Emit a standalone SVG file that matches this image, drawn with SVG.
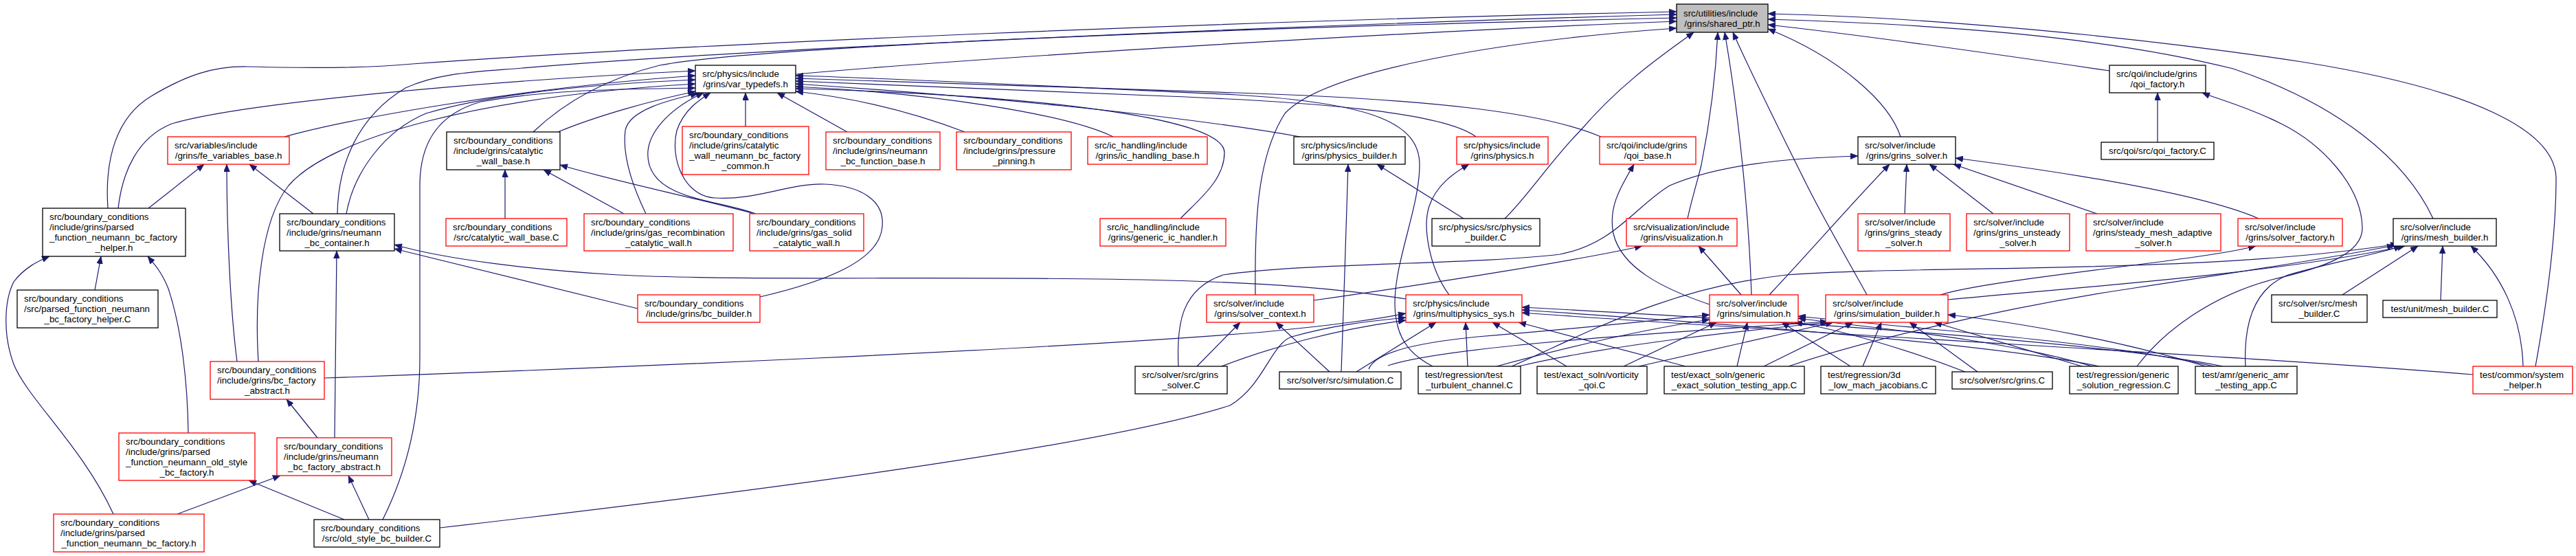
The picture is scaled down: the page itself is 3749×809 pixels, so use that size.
<svg xmlns="http://www.w3.org/2000/svg" width="3749" height="809" viewBox="0 0 3749 809">
<defs>
<marker id="ah" markerUnits="userSpaceOnUse" markerWidth="12" markerHeight="9" refX="11" refY="4.5" orient="auto" viewBox="0 0 12 9"><path d="M0,0 L11,4.5 L0,9 z" fill="#191970" stroke="#191970" stroke-width="0.5"/></marker>
</defs>
<style>
.b{fill:#fff;stroke:#000;stroke-width:1.3}
.r{fill:#fff;stroke:#f00;stroke-width:1.3}
.g{fill:#bfbfbf;stroke:#000;stroke-width:1.3}
text{font-family:"Liberation Sans",Arial,Helvetica,sans-serif;font-size:13.33px;fill:#000}
.l{text-anchor:start}
.c{text-anchor:middle}
#edges path{fill:none;stroke:#191970;stroke-width:1.2;marker-end:url(#ah)}
</style>
<rect x="0" y="0" width="3749" height="809" fill="#fff"/>
<g id="edges">
<path d="M1158,108 C1450,82 2050,46 2440,31"/>
<path d="M157,303 C152,230 170,170 220,140 C270,110 310,96 360,97 C450,99 520,100 600,93 C1000,64 1800,30 2440,17"/>
<path d="M491,311 C492,240 520,170 590,128 C640,105 700,104 760,99 C1100,70 1900,36 2440,21"/>
<path d="M776,192 C820,150 880,115 960,95 C1100,68 1800,40 2440,26"/>
<path d="M1827,429 C1826,330 1828,230 1870,165 C1930,100 2200,58 2440,41"/>
<path d="M2190,318 C2220,290 2260,230 2300,190 C2360,120 2420,80 2465,47"/>
<path d="M2456,318 C2462,290 2470,265 2476,240 C2488,180 2497,110 2500,47"/>
<path d="M2549,429 C2545,300 2528,150 2510,47"/>
<path d="M2717,429 C2690,380 2655,320 2630,270 C2590,190 2550,110 2522,47"/>
<path d="M2766,199 C2750,150 2680,85 2573,42"/>
<path d="M3070,103 C2900,78 2700,50 2573,36"/>
<path d="M3541,318 C3500,230 3400,150 3250,100 C3050,50 2800,35 2573,28"/>
<path d="M3690,533 C3705,450 3720,350 3720,260 C3720,190 3600,130 3350,90 C3100,52 2800,25 2573,20"/>
<path d="M3140,207 L3140,135"/>
<path d="M3110,533 C3150,480 3220,430 3306,407 C3380,390 3440,370 3438,330 C3436,270 3380,210 3320,180 C3270,155 3230,145 3205,135"/>
<path d="M172,303 C178,250 200,200 250,180 C350,150 700,118 1012,103"/>
<path d="M414,199 C500,175 750,128 1012,110"/>
<path d="M504,311 C515,250 560,190 620,165 C720,135 870,122 1012,116"/>
<path d="M376,526 C370,430 380,320 420,270 C480,200 700,140 1012,122"/>
<path d="M557,756 C590,690 611,610 611,520 L611,270 C611,205 640,165 700,148 C800,130 900,130 1012,128"/>
<path d="M812,192 C870,168 950,146 1012,133"/>
<path d="M940,311 C925,280 905,230 910,190 C915,160 975,145 1016,136"/>
<path d="M1100,311 C1040,290 960,290 945,240 C932,195 980,155 1024,135"/>
<path d="M1106,432 C1200,410 1280,380 1284,330 C1288,290 1250,270 1200,268 C1150,266 1100,292 1040,288 C995,285 975,230 985,190 C995,160 1018,145 1034,135"/>
<path d="M1085,184 L1085,135"/>
<path d="M1233,192 L1131,135"/>
<path d="M1404,192 C1320,160 1240,142 1158,133"/>
<path d="M1620,199 C1550,165 1350,135 1158,126"/>
<path d="M1718,318 C1745,290 1782,262 1782,222 C1782,170 1500,138 1158,129"/>
<path d="M1892,199 C1700,165 1400,138 1158,122"/>
<path d="M2148,199 C2100,162 1900,148 1700,140 C1500,132 1300,123 1158,118"/>
<path d="M2330,199 C2250,165 2100,145 1800,135 C1500,125 1300,118 1158,114"/>
<path d="M2085,533 C2050,515 2030,490 2030,440 C2030,380 2066,300 2066,240 C2066,180 2000,150 1800,138 C1500,124 1300,114 1158,110"/>
<path d="M216,303 L297,239"/>
<path d="M345,526 C335,450 330,330 330,239"/>
<path d="M456,311 L363,239"/>
<path d="M735,318 L735,247"/>
<path d="M908,311 L791,247"/>
<path d="M1098,311 C1000,285 900,265 815,240"/>
<path d="M138,422 L147,373"/>
<path d="M165,748 C120,650 40,580 20,530 C5,490 5,440 20,410 C35,390 55,380 72,373"/>
<path d="M274,630 C273,560 265,480 245,420 C235,395 225,385 215,373"/>
<path d="M487,637 L490,365"/>
<path d="M928,449 L574,362"/>
<path d="M2046,435 C1950,420 1850,412 1700,408 C1400,400 1100,410 900,400 C780,393 650,378 574,356"/>
<path d="M462,637 L417,581"/>
<path d="M258,748 L408,692"/>
<path d="M537,756 L507,692"/>
<path d="M501,756 L362,699"/>
<path d="M472,550 C900,535 1500,510 1840,483 C1950,472 2000,465 2046,456"/>
<path d="M640,768 C1100,715 1600,650 1790,590 C1840,560 1850,500 1880,490 C1950,470 2010,466 2046,462"/>
<path d="M1778,533 C1850,505 1950,478 2046,466"/>
<path d="M1974,541 L2090,469"/>
<path d="M2136,533 L2133,469"/>
<path d="M2280,533 L2172,469"/>
<path d="M2453,533 L2210,469"/>
<path d="M3599,545 C3300,520 2700,490 2215,455"/>
<path d="M3055,533 C2900,500 2500,470 2215,451"/>
<path d="M3235,533 C3050,495 2550,465 2215,447"/>
<path d="M2109,429 C2080,390 2070,330 2080,300 C2090,270 2115,252 2138,239"/>
<path d="M1935,541 L1857,469"/>
<path d="M1742,533 L1805,469"/>
<path d="M1952,541 C1955,450 1960,320 1962,239"/>
<path d="M2130,318 L2004,239"/>
<path d="M2488,443 C2420,420 2360,390 2348,340 C2340,300 2360,270 2378,239"/>
<path d="M1912,437 C2100,410 2300,378 2390,358"/>
<path d="M2534,429 L2472,358"/>
<path d="M2575,429 C2640,360 2700,290 2750,239"/>
<path d="M2772,311 L2775,239"/>
<path d="M2901,311 L2808,239"/>
<path d="M3052,311 L2843,239"/>
<path d="M3287,318 C3200,280 3000,250 2846,230"/>
<path d="M1715,533 C1712,470 1720,420 1780,400 C1900,382 2150,385 2270,370 C2350,355 2380,300 2430,270 C2500,240 2600,230 2704,227"/>
<path d="M2824,429 C2900,405 3200,380 3283,358"/>
<path d="M3552,437 L3555,358"/>
<path d="M3409,429 L3519,358"/>
<path d="M3672,533 C3670,460 3640,400 3596,358"/>
<path d="M2835,436 C3000,420 3300,400 3500,358"/>
<path d="M3268,533 C3265,470 3280,420 3330,400 C3400,380 3460,370 3495,358"/>
<path d="M2200,533 C2300,490 2420,420 2600,400 C2800,385 3200,400 3490,355"/>
<path d="M2603,533 C2700,500 2900,450 3100,420 C3300,390 3420,370 3485,357"/>
<path d="M1992,537 C2000,515 2050,500 2150,490 C2300,478 2420,465 2488,458"/>
<path d="M2178,533 C2300,500 2400,478 2488,465"/>
<path d="M2363,533 L2498,469"/>
<path d="M2528,533 L2543,469"/>
<path d="M2693,533 L2593,469"/>
<path d="M2860,541 C2780,510 2680,480 2612,469"/>
<path d="M3045,533 C2900,490 2700,475 2617,463"/>
<path d="M3222,533 C3050,495 2800,480 2617,460"/>
<path d="M2020,532 C2100,505 2400,485 2660,468"/>
<path d="M2210,533 C2350,500 2550,480 2662,469"/>
<path d="M2385,533 L2668,469"/>
<path d="M2567,533 L2697,469"/>
<path d="M2711,533 L2738,469"/>
<path d="M2878,541 L2779,469"/>
<path d="M3030,533 L2815,469"/>
<path d="M3210,533 C3100,500 2950,470 2835,458"/>
</g>
<g id="shared_ptr"><rect class="g" x="2440" y="6" width="133" height="41"/><text class="l" x="2450" y="23.6">src/utilities/include</text><text class="c" x="2506.5" y="38.6">/grins/shared_ptr.h</text></g>
<g id="var_typedefs"><rect class="b" x="1012" y="95" width="146" height="40"/><text class="l" x="1022" y="112">src/physics/include</text><text class="c" x="1085" y="127">/grins/var_typedefs.h</text></g>
<g id="qoi_factory_h"><rect class="b" x="3070" y="95" width="140" height="40"/><text class="l" x="3080" y="112">src/qoi/include/grins</text><text class="c" x="3140" y="127">/qoi_factory.h</text></g>
<g id="fe_variables_base"><rect class="r" x="244" y="199" width="177" height="40"/><text class="l" x="254" y="216">src/variables/include</text><text class="c" x="332.5" y="231">/grins/fe_variables_base.h</text></g>
<g id="catalytic_wall_base_h"><rect class="b" x="650" y="192" width="165" height="55"/><text class="l" x="660" y="209">src/boundary_conditions</text><text class="l" x="660" y="224">/include/grins/catalytic</text><text class="c" x="732.5" y="239">_wall_base.h</text></g>
<g id="catalytic_wall_neumann_bc_factory_common"><rect class="r" x="993" y="184" width="184" height="70"/><text class="l" x="1003" y="201">src/boundary_conditions</text><text class="l" x="1003" y="216">/include/grins/catalytic</text><text class="l" x="1003" y="231">_wall_neumann_bc_factory</text><text class="c" x="1085" y="246">_common.h</text></g>
<g id="neumann_bc_function_base"><rect class="r" x="1202" y="192" width="166" height="55"/><text class="l" x="1212" y="209">src/boundary_conditions</text><text class="l" x="1212" y="224">/include/grins/neumann</text><text class="c" x="1285" y="239">_bc_function_base.h</text></g>
<g id="pressure_pinning"><rect class="r" x="1392" y="192" width="167" height="55"/><text class="l" x="1402" y="209">src/boundary_conditions</text><text class="l" x="1402" y="224">/include/grins/pressure</text><text class="c" x="1475.5" y="239">_pinning.h</text></g>
<g id="ic_handling_base"><rect class="r" x="1583" y="199" width="174" height="40"/><text class="l" x="1593" y="216">src/ic_handling/include</text><text class="c" x="1670" y="231">/grins/ic_handling_base.h</text></g>
<g id="physics_builder_h"><rect class="b" x="1883" y="199" width="162" height="40"/><text class="l" x="1893" y="216">src/physics/include</text><text class="c" x="1964" y="231">/grins/physics_builder.h</text></g>
<g id="physics_h"><rect class="r" x="2120" y="199" width="133" height="40"/><text class="l" x="2130" y="216">src/physics/include</text><text class="c" x="2186.5" y="231">/grins/physics.h</text></g>
<g id="qoi_base"><rect class="r" x="2328" y="199" width="140" height="40"/><text class="l" x="2338" y="216">src/qoi/include/grins</text><text class="c" x="2398" y="231">/qoi_base.h</text></g>
<g id="grins_solver_h"><rect class="b" x="2704" y="199" width="142" height="40"/><text class="l" x="2714" y="216">src/solver/include</text><text class="c" x="2775" y="231">/grins/grins_solver.h</text></g>
<g id="qoi_factory_C"><rect class="b" x="3058" y="207" width="164" height="25"/><text class="c" x="3140" y="224">src/qoi/src/qoi_factory.C</text></g>
<g id="parsed_function_neumann_bc_factory_helper_h"><rect class="b" x="62" y="303" width="208" height="70"/><text class="l" x="72" y="320">src/boundary_conditions</text><text class="l" x="72" y="335">/include/grins/parsed</text><text class="l" x="72" y="350">_function_neumann_bc_factory</text><text class="c" x="166" y="365">_helper.h</text></g>
<g id="neumann_bc_container"><rect class="b" x="407" y="311" width="167" height="54"/><text class="l" x="417" y="328">src/boundary_conditions</text><text class="l" x="417" y="343">/include/grins/neumann</text><text class="c" x="490.5" y="358">_bc_container.h</text></g>
<g id="catalytic_wall_base_C"><rect class="r" x="649" y="318" width="176" height="40"/><text class="l" x="659" y="335">src/boundary_conditions</text><text class="c" x="737" y="350">/src/catalytic_wall_base.C</text></g>
<g id="gas_recombination_catalytic_wall"><rect class="r" x="850" y="311" width="217" height="54"/><text class="l" x="860" y="328">src/boundary_conditions</text><text class="l" x="860" y="343">/include/grins/gas_recombination</text><text class="c" x="958.5" y="358">_catalytic_wall.h</text></g>
<g id="gas_solid_catalytic_wall"><rect class="r" x="1091" y="311" width="166" height="54"/><text class="l" x="1101" y="328">src/boundary_conditions</text><text class="l" x="1101" y="343">/include/grins/gas_solid</text><text class="c" x="1174" y="358">_catalytic_wall.h</text></g>
<g id="generic_ic_handler"><rect class="r" x="1601" y="318" width="183" height="40"/><text class="l" x="1611" y="335">src/ic_handling/include</text><text class="c" x="1692.5" y="350">/grins/generic_ic_handler.h</text></g>
<g id="physics_builder_C"><rect class="b" x="2084" y="318" width="157" height="40"/><text class="l" x="2094" y="335">src/physics/src/physics</text><text class="c" x="2162.5" y="350">_builder.C</text></g>
<g id="visualization"><rect class="r" x="2367" y="318" width="161" height="40"/><text class="l" x="2377" y="335">src/visualization/include</text><text class="c" x="2447.5" y="350">/grins/visualization.h</text></g>
<g id="grins_steady_solver"><rect class="r" x="2704" y="311" width="134" height="54"/><text class="l" x="2714" y="328">src/solver/include</text><text class="l" x="2714" y="343">/grins/grins_steady</text><text class="c" x="2771" y="358">_solver.h</text></g>
<g id="grins_unsteady_solver"><rect class="r" x="2862" y="311" width="150" height="54"/><text class="l" x="2872" y="328">src/solver/include</text><text class="l" x="2872" y="343">/grins/grins_unsteady</text><text class="c" x="2937" y="358">_solver.h</text></g>
<g id="steady_mesh_adaptive_solver"><rect class="r" x="3036" y="311" width="196" height="54"/><text class="l" x="3046" y="328">src/solver/include</text><text class="l" x="3046" y="343">/grins/steady_mesh_adaptive</text><text class="c" x="3134" y="358">_solver.h</text></g>
<g id="solver_factory"><rect class="r" x="3257" y="318" width="152" height="40"/><text class="l" x="3267" y="335">src/solver/include</text><text class="c" x="3333" y="350">/grins/solver_factory.h</text></g>
<g id="mesh_builder_h"><rect class="b" x="3483" y="318" width="150" height="40"/><text class="l" x="3493" y="335">src/solver/include</text><text class="c" x="3558" y="350">/grins/mesh_builder.h</text></g>
<g id="parsed_function_neumann_bc_factory_helper_C"><rect class="b" x="25" y="422" width="205" height="55"/><text class="l" x="35" y="439">src/boundary_conditions</text><text class="l" x="35" y="454">/src/parsed_function_neumann</text><text class="c" x="127.5" y="469">_bc_factory_helper.C</text></g>
<g id="bc_builder"><rect class="r" x="928" y="429" width="178" height="40"/><text class="l" x="938" y="446">src/boundary_conditions</text><text class="c" x="1017" y="461">/include/grins/bc_builder.h</text></g>
<g id="solver_context"><rect class="r" x="1756" y="429" width="156" height="40"/><text class="l" x="1766" y="446">src/solver/include</text><text class="c" x="1834" y="461">/grins/solver_context.h</text></g>
<g id="multiphysics_sys"><rect class="r" x="2046" y="429" width="169" height="40"/><text class="l" x="2056" y="446">src/physics/include</text><text class="c" x="2130.5" y="461">/grins/multiphysics_sys.h</text></g>
<g id="simulation_h"><rect class="r" x="2488" y="429" width="129" height="40"/><text class="l" x="2498" y="446">src/solver/include</text><text class="c" x="2552.5" y="461">/grins/simulation.h</text></g>
<g id="simulation_builder"><rect class="r" x="2657" y="429" width="178" height="40"/><text class="l" x="2667" y="446">src/solver/include</text><text class="c" x="2746" y="461">/grins/simulation_builder.h</text></g>
<g id="src_mesh_builder_C"><rect class="b" x="3306" y="429" width="139" height="40"/><text class="l" x="3316" y="446">src/solver/src/mesh</text><text class="c" x="3375.5" y="461">_builder.C</text></g>
<g id="unit_mesh_builder_C"><rect class="b" x="3468" y="437" width="166" height="25"/><text class="c" x="3551" y="454">test/unit/mesh_builder.C</text></g>
<g id="bc_factory_abstract"><rect class="r" x="306" y="526" width="166" height="55"/><text class="l" x="316" y="543">src/boundary_conditions</text><text class="l" x="316" y="558">/include/grins/bc_factory</text><text class="c" x="389" y="573">_abstract.h</text></g>
<g id="grins_solver_C"><rect class="b" x="1652" y="533" width="134" height="40"/><text class="l" x="1662" y="550">src/solver/src/grins</text><text class="c" x="1719" y="565">_solver.C</text></g>
<g id="simulation_C"><rect class="b" x="1862" y="541" width="177" height="25"/><text class="c" x="1950.5" y="558">src/solver/src/simulation.C</text></g>
<g id="test_turbulent_channel"><rect class="b" x="2064" y="533" width="149" height="40"/><text class="l" x="2074" y="550">test/regression/test</text><text class="c" x="2138.5" y="565">_turbulent_channel.C</text></g>
<g id="vorticity_qoi"><rect class="b" x="2237" y="533" width="160" height="40"/><text class="l" x="2247" y="550">test/exact_soln/vorticity</text><text class="c" x="2317" y="565">_qoi.C</text></g>
<g id="generic_exact_solution_testing_app"><rect class="b" x="2422" y="533" width="204" height="40"/><text class="l" x="2432" y="550">test/exact_soln/generic</text><text class="c" x="2524" y="565">_exact_solution_testing_app.C</text></g>
<g id="low_mach_jacobians"><rect class="b" x="2650" y="533" width="167" height="40"/><text class="l" x="2660" y="550">test/regression/3d</text><text class="c" x="2733.5" y="565">_low_mach_jacobians.C</text></g>
<g id="grins_C"><rect class="b" x="2841" y="541" width="146" height="25"/><text class="c" x="2914" y="558">src/solver/src/grins.C</text></g>
<g id="generic_solution_regression"><rect class="b" x="3012" y="533" width="158" height="40"/><text class="l" x="3022" y="550">test/regression/generic</text><text class="c" x="3091" y="565">_solution_regression.C</text></g>
<g id="generic_amr_testing_app"><rect class="b" x="3195" y="533" width="148" height="40"/><text class="l" x="3205" y="550">test/amr/generic_amr</text><text class="c" x="3269" y="565">_testing_app.C</text></g>
<g id="system_helper"><rect class="r" x="3599" y="533" width="145" height="40"/><text class="l" x="3609" y="550">test/common/system</text><text class="c" x="3671.5" y="565">_helper.h</text></g>
<g id="parsed_function_neumann_old_style_bc_factory"><rect class="r" x="173" y="630" width="198" height="69"/><text class="l" x="183" y="647">src/boundary_conditions</text><text class="l" x="183" y="662">/include/grins/parsed</text><text class="l" x="183" y="677">_function_neumann_old_style</text><text class="c" x="272" y="692">_bc_factory.h</text></g>
<g id="neumann_bc_factory_abstract"><rect class="r" x="403" y="637" width="167" height="55"/><text class="l" x="413" y="654">src/boundary_conditions</text><text class="l" x="413" y="669">/include/grins/neumann</text><text class="c" x="486.5" y="684">_bc_factory_abstract.h</text></g>
<g id="parsed_function_neumann_bc_factory"><rect class="r" x="78" y="748" width="219" height="55"/><text class="l" x="88" y="765">src/boundary_conditions</text><text class="l" x="88" y="780">/include/grins/parsed</text><text class="c" x="187.5" y="795">_function_neumann_bc_factory.h</text></g>
<g id="old_style_bc_builder"><rect class="b" x="457" y="756" width="183" height="40"/><text class="l" x="467" y="773">src/boundary_conditions</text><text class="c" x="548.5" y="788">/src/old_style_bc_builder.C</text></g>
</svg>
